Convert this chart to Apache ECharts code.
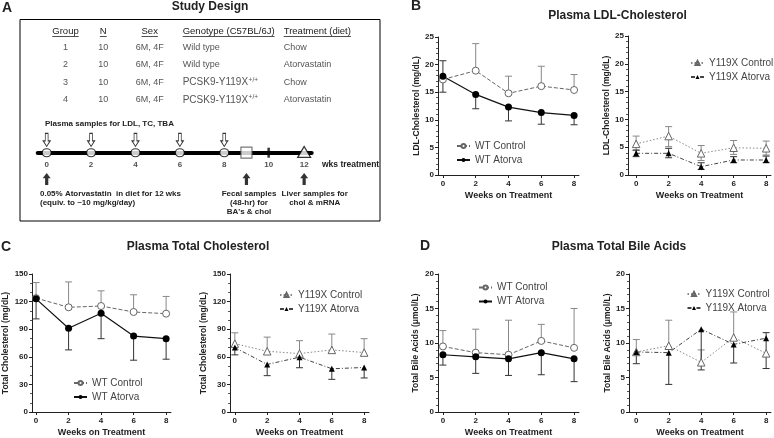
<!DOCTYPE html>
<html><head><meta charset="utf-8">
<script src="https://cdn.jsdelivr.net/npm/echarts@6/dist/echarts.min.js"></script>
<style>html,body{margin:0;padding:0;background:#fff}#c{width:774px;height:438px}</style>
</head><body><div id="c"></div>
<script>
// ---------------- DATA ----------------
const weeks = [0, 2, 4, 6, 8];
const weekTicks = [0, 2, 4, 6, 8];

// B: Plasma LDL-C (mg/dL)
const ldlWtCtrl    = [17.3, 18.9, 14.8, 16.1, 15.4];
const ldlWtCtrlLo  = [17.3, 18.9, 14.8, 16.1, 15.4];
const ldlWtCtrlHi  = [17.3, 23.8, 17.9, 19.7, 18.2];
const ldlWtAtv     = [17.9, 14.6, 12.3, 11.3, 10.8];
const ldlWtAtvLo   = [15.0, 12.0, 9.8, 9.2, 9.1];
const ldlWtAtvHi   = [20.7, 14.6, 12.3, 11.3, 10.8];
const ldlYCtrl     = [5.6, 7.0, 3.9, 4.9, 4.8];
const ldlYCtrlLo   = [4.4, 5.1, 2.6, 3.7, 3.6];
const ldlYCtrlHi   = [7.0, 8.7, 5.3, 6.2, 6.1];
const ldlYAtv      = [3.9, 3.9, 1.5, 2.7, 2.7];
const ldlYAtvLo    = [3.3, 3.1, 1.0, 2.2, 2.2];
const ldlYAtvHi    = [4.5, 4.8, 2.2, 3.3, 3.4];

// C: Plasma total cholesterol (mg/dL)
const tcWtCtrl   = [123.8, 113.8, 115.2, 108.7, 106.9];
const tcWtCtrlLo = [123.8, 113.8, 115.2, 108.7, 106.9];
const tcWtCtrlHi = [140.7, 141.4, 131.7, 127.4, 125.6];
const tcWtAtv    = [123.0, 91.1, 107.3, 82.5, 79.7];
const tcWtAtvLo  = [101.2, 67.5, 79.7, 56.3, 57.4];
const tcWtAtvHi  = [123.0, 91.1, 107.3, 82.5, 79.7];
const tcYCtrl    = [74.3, 66.0, 63.5, 67.5, 64.6];
const tcYCtrlLo  = [74.3, 66.0, 63.5, 67.5, 64.6];
const tcYCtrlHi  = [86.1, 81.4, 77.5, 84.7, 79.7];
const tcYAtv     = [70.0, 51.7, 59.6, 47.0, 48.4];
const tcYAtvLo   = [62.1, 39.5, 48.1, 35.5, 37.0];
const tcYAtvHi   = [70.0, 51.7, 59.6, 47.0, 48.4];

// D: Plasma total bile acids (umol/L)
const baWtCtrl   = [9.5, 8.6, 8.3, 10.3, 9.3];
const baWtCtrlLo = [9.5, 8.6, 8.3, 10.3, 9.3];
const baWtCtrlHi = [11.8, 12.0, 13.3, 12.7, 15.0];
const baWtAtv    = [8.3, 8.0, 7.7, 8.6, 7.7];
const baWtAtvLo  = [6.8, 5.6, 5.3, 5.4, 4.4];
const baWtAtvHi  = [8.3, 8.0, 7.7, 8.6, 7.7];
const baYCtrl    = [8.7, 9.6, 7.2, 10.8, 8.5];
const baYCtrlLo  = [8.7, 9.6, 7.2, 10.8, 8.5];
const baYCtrlHi  = [10.5, 13.3, 9.0, 14.5, 8.5];
const baYAtv     = [8.7, 8.6, 12.0, 9.8, 10.7];
const baYAtvLo   = [7.0, 4.0, 6.1, 7.1, 6.3];
const baYAtvHi   = [8.7, 8.6, 12.0, 9.8, 11.5];

// A: study design
const tableHeaders = ['Group', 'N', 'Sex', 'Genotype (C57BL/6J)', 'Treatment (diet)'];
const tableGroups = ['1', '2', '3', '4'];
const tableN = ['10', '10', '10', '10'];
const tableSex = ['6M, 4F', '6M, 4F', '6M, 4F', '6M, 4F'];
const tableGenotype = ['Wild type', 'Wild type', 'PCSK9-Y119X', 'PCSK9-Y119X'];
const tableGenotypeSup = ['', '', '+/+', '+/+'];
const tableTreatment = ['Chow', 'Atorvastatin', 'Chow', 'Atorvastatin'];
const plasmaSampleWeeks = [0, 2, 4, 6, 8];
const fecalWeek = [9];
const markWeek = [10];
const liverWeek = [11.6];
const startWeek = [0];
const timelineLabels = ['0', '2', '4', '6', '8', '10', '12'];
const timelineLabelPos = [0, 2, 4, 6, 8, 10, 11.6];

// ---------------- STYLE / LAYOUT ----------------
const FF = 'Liberation Sans, Arial, Helvetica, sans-serif';
const styles = {
  wtc: { symbol: 'circle', symbolSize: 7, itemStyle: { color: '#fff', borderColor: '#666', borderWidth: 1 }, lineStyle: { color: '#666', width: 1, type: [4, 2] }, err: '#888' },
  wta: { symbol: 'circle', symbolSize: 7, itemStyle: { color: '#000', borderColor: '#000', borderWidth: 0 }, lineStyle: { color: '#111', width: 1.2, type: 'solid' }, err: '#333' },
  yc:  { symbol: 'triangle', symbolSize: 7.5, itemStyle: { color: '#fff', borderColor: '#666', borderWidth: 1 }, lineStyle: { color: '#888', width: 1, type: [1.5, 2] }, err: '#888' },
  ya:  { symbol: 'triangle', symbolSize: 6, itemStyle: { color: '#000', borderColor: '#000', borderWidth: 0 }, lineStyle: { color: '#444', width: 1, type: [4, 2, 1, 2] }, err: '#333' }
};

const panels = [
  { grid: { left: 438, top: 37, width: 141, height: 138 }, xmin: -0.3, ymax: 25, yint: 5, ymin: 5, yname: 'LDL-Cholesterol (mg/dL)', ygap: 15,
    legend: { left: 456, top: 141 },
    series: [
      { name: 'WT Control', st: 'wtc', mean: ldlWtCtrl, lo: ldlWtCtrlLo, hi: ldlWtCtrlHi },
      { name: 'WT Atorva', st: 'wta', mean: ldlWtAtv, lo: ldlWtAtvLo, hi: ldlWtAtvHi } ] },
  { grid: { left: 628, top: 36, width: 143, height: 139 }, xmin: -0.5, ymax: 25, yint: 5, ymin: 5, yname: 'LDL-Cholesterol (mg/dL)', ygap: 11,
    legend: { left: 690, top: 58 },
    series: [
      { name: 'Y119X Control', st: 'yc', mean: ldlYCtrl, lo: ldlYCtrlLo, hi: ldlYCtrlHi },
      { name: 'Y119X Atorva', st: 'ya', mean: ldlYAtv, lo: ldlYAtvLo, hi: ldlYAtvHi } ] },
  { grid: { left: 32, top: 274, width: 139, height: 139 }, xmin: -0.25, ymax: 150, yint: 30, ymin: 3, yname: 'Total Cholesterol (mg/dL)', ygap: 22,
    legend: { left: 73, top: 378 },
    series: [
      { name: 'WT Control', st: 'wtc', mean: tcWtCtrl, lo: tcWtCtrlLo, hi: tcWtCtrlHi },
      { name: 'WT Atorva', st: 'wta', mean: tcWtAtv, lo: tcWtAtvLo, hi: tcWtAtvHi } ] },
  { grid: { left: 230, top: 274, width: 139, height: 139 }, xmin: -0.3, ymax: 150, yint: 30, ymin: 3, yname: 'Total Cholesterol (mg/dL)', ygap: 22,
    legend: { left: 279, top: 290 },
    series: [
      { name: 'Y119X Control', st: 'yc', mean: tcYCtrl, lo: tcYCtrlLo, hi: tcYCtrlHi },
      { name: 'Y119X Atorva', st: 'ya', mean: tcYAtv, lo: tcYAtvLo, hi: tcYAtvHi } ] },
  { grid: { left: 438, top: 274, width: 141, height: 139 }, xmin: -0.3, ymax: 20, yint: 5, ymin: 5, yname: 'Total Bile Acids (\u03bcmol/L)', ygap: 18,
    legend: { left: 478, top: 282.5 },
    series: [
      { name: 'WT Control', st: 'wtc', mean: baWtCtrl, lo: baWtCtrlLo, hi: baWtCtrlHi },
      { name: 'WT Atorva', st: 'wta', mean: baWtAtv, lo: baWtAtvLo, hi: baWtAtvHi } ] },
  { grid: { left: 629, top: 274, width: 142, height: 139 }, xmin: -0.45, ymax: 20, yint: 5, ymin: 5, yname: 'Total Bile Acids (\u03bcmol/L)', ygap: 15,
    legend: { left: 686.5, top: 289 },
    series: [
      { name: 'Y119X Control', st: 'yc', mean: baYCtrl, lo: baYCtrlLo, hi: baYCtrlHi },
      { name: 'Y119X Atorva', st: 'ya', mean: baYAtv, lo: baYAtvLo, hi: baYAtvHi } ] }
];

const grids = [], xAxes = [], yAxes = [], series = [], legends = [];
const axisColor = '#222';

panels.forEach((p, i) => {
  grids.push(Object.assign({ containLabel: false }, p.grid));
  xAxes.push({
    type: 'value', gridIndex: i, min: p.xmin, max: 8.3,
    axisLine: { show: true, onZero: false, lineStyle: { color: axisColor, width: 1 } },
    axisTick: { show: true, length: 3, customValues: weekTicks, lineStyle: { color: axisColor } },
    axisLabel: { customValues: weekTicks, fontSize: 8, fontWeight: 'bold', color: '#222', margin: 5, fontFamily: FF },
    splitLine: { show: false },
    name: 'Weeks on Treatment', nameLocation: 'middle', nameGap: 16,
    nameTextStyle: { fontSize: 9, fontWeight: 'bold', color: '#222', fontFamily: FF }
  });
  yAxes.push({
    type: 'value', gridIndex: i, min: 0, max: p.ymax, interval: p.yint,
    axisLine: { show: true, onZero: false, lineStyle: { color: axisColor, width: 1 } },
    axisTick: { show: true, length: 3, lineStyle: { color: axisColor } },
    minorTick: { show: true, splitNumber: p.ymin, length: 2, lineStyle: { color: '#555' } },
    splitLine: { show: false }, minorSplitLine: { show: false },
    axisLabel: { fontSize: 8, fontWeight: 'bold', color: '#222', margin: 4, fontFamily: FF },
    name: p.yname, nameLocation: 'middle', nameGap: p.ygap,
    nameTextStyle: { fontSize: 8.5, fontWeight: 'bold', color: '#222', fontFamily: FF }
  });
  legends.push({
    data: p.series.map(s => s.name), left: p.legend.left, top: p.legend.top, orient: 'vertical',
    padding: 0, itemGap: 4, itemWidth: 13, itemHeight: 5, selectedMode: false,
    textStyle: { fontSize: 10, color: '#444', fontFamily: FF }
  });
  p.series.forEach(s => {
    const st = styles[s.st];
    series.push({
      type: 'custom', name: s.name + ' SD', xAxisIndex: i, yAxisIndex: i, z: 1, silent: true,
      data: weeks.map((w, k) => [w, s.mean[k], s.lo[k], s.hi[k]]),
      encode: { x: 0, y: [2, 3] },
      renderItem: function (params, api) {
        const x = api.value(0), m = api.value(1), lo = api.value(2), hi = api.value(3);
        const pLo = api.coord([x, lo]), pHi = api.coord([x, hi]);
        const cw = 3.5, ls = { stroke: st.err, lineWidth: 1 };
        const ch = [{ type: 'line', shape: { x1: pLo[0], y1: pLo[1], x2: pHi[0], y2: pHi[1] }, style: ls }];
        if (hi > m) ch.push({ type: 'line', shape: { x1: pHi[0] - cw, y1: pHi[1], x2: pHi[0] + cw, y2: pHi[1] }, style: ls });
        if (lo < m) ch.push({ type: 'line', shape: { x1: pLo[0] - cw, y1: pLo[1], x2: pLo[0] + cw, y2: pLo[1] }, style: ls });
        return { type: 'group', children: ch };
      }
    });
    series.push({
      type: 'line', name: s.name, xAxisIndex: i, yAxisIndex: i, z: 3,
      data: weeks.map((w, k) => [w, s.mean[k]]),
      symbol: st.symbol, symbolSize: st.symbolSize, showAllSymbol: true,
      itemStyle: st.itemStyle, lineStyle: st.lineStyle, animation: false
    });
  });
});

// ---- Panel A timeline (grid index 6) ----
const TI = 6;
grids.push({ left: 37.7, top: 72.7, width: 274, height: 160 });
xAxes.push({ type: 'value', gridIndex: TI, min: -0.405, max: 11.94,
  axisLine: { show: true, onZero: true, lineStyle: { color: '#000', width: 4 } },
  axisTick: { show: false }, axisLabel: { show: false }, splitLine: { show: false } });
yAxes.push({ type: 'value', gridIndex: TI, min: -20, max: 20, show: false, splitLine: { show: false } });

const downArrow = 'path://M3,0 L7,0 L7,8 L10,8 L5,14 L0,8 L3,8 Z';
const upArrow = 'path://M5,0 L10,6 L7,6 L7,14 L3,14 L3,6 L0,6 Z';
const tl = (data, extra) => Object.assign({ type: 'scatter', xAxisIndex: TI, yAxisIndex: TI, clip: false, silent: true, z: 5, data }, extra);
series.push(tl(plasmaSampleWeeks.map(w => [w, 3.2]), { symbol: downArrow, symbolSize: [7, 13], itemStyle: { color: '#fff', borderColor: '#000', borderWidth: 1 } }));
series.push(tl(plasmaSampleWeeks.map(w => [w, 0]), { symbol: 'circle', symbolSize: [9, 8], itemStyle: { color: '#fff', borderColor: '#000', borderWidth: 1.2 } }));
series.push(tl(fecalWeek.map(w => [w, 0]), { symbol: 'rect', symbolSize: 11, itemStyle: { color: '#fff', borderColor: '#555', borderWidth: 1.2 } }));
series.push(tl(markWeek.map(w => [w, 0]), { symbol: 'rect', symbolSize: [2.5, 10], itemStyle: { color: '#000' } }));
series.push(tl(liverWeek.map(w => [w, 0.2]), { symbol: 'triangle', symbolSize: [13, 11], itemStyle: { color: '#fff', borderColor: '#000', borderWidth: 1.2 } }));
series.push(tl(startWeek.concat(fecalWeek, liverWeek).map(w => [w, -6.6]), { symbol: upArrow, symbolSize: [8, 12], itemStyle: { color: '#000' } }));
series.push(tl(timelineLabelPos.map((w, k) => ({ value: [w, -2.9], label: { formatter: timelineLabels[k] } })), {
  symbolSize: 1, itemStyle: { color: 'rgba(0,0,0,0)' },
  label: { show: true, position: 'inside', fontSize: 8, fontWeight: 'bold', color: '#222', fontFamily: FF } }));

// ---- Graphic text ----
const G = [];
function txt(text, x, y, font, align, fill) {
  G.push({ type: 'text', x: x, y: y, silent: true,
    style: { text: text, font: font, fill: fill || '#222', textAlign: align || 'left', textVerticalAlign: 'middle', align: align || 'left', verticalAlign: 'middle' } });
}
const measureCtx = document.createElement('canvas').getContext('2d');
function tw(text, font) { measureCtx.font = font; return measureCtx.measureText(text).width; }

const fTitle = 'bold 12px ' + FF, fLetter = 'bold 14px ' + FF;
txt('A', 2, 8, fLetter); txt('Study Design', 210, 7, fTitle, 'center');
txt('B', 411, 6, fLetter); txt('Plasma LDL-Cholesterol', 617.5, 15.7, fTitle, 'center');
txt('C', 1, 247, fLetter); txt('Plasma Total Cholesterol', 198, 247, fTitle, 'center');
txt('D', 420, 246.5, fLetter); txt('Plasma Total Bile Acids', 619, 247, fTitle, 'center');

G.push({ type: 'rect', silent: true, shape: { x: 20, y: 19.5, width: 360, height: 201.5 }, style: { fill: 'none', stroke: '#000', lineWidth: 1 } });

const fHead = '9.5px ' + FF, fTab = '9px ' + FF, fGeno = '10px ' + FF;
const colX = [65.5, 103.3, 149.7, 182.7, 283.7];
const colAlign = ['center', 'center', 'center', 'left', 'left'];
tableHeaders.forEach((h, c) => {
  txt(h, colX[c], 31.5, fHead, colAlign[c], '#222');
  const w = tw(h, fHead);
  const x0 = colAlign[c] === 'center' ? colX[c] - w / 2 : colX[c];
  G.push({ type: 'line', silent: true, shape: { x1: x0, y1: 36.5, x2: x0 + w, y2: 36.5 }, style: { stroke: '#222', lineWidth: 0.8 } });
});
const rowY = [47.3, 64.7, 82.3, 100];
const rowCol = '#555';
tableGroups.forEach((g, r) => {
  txt(g, colX[0], rowY[r], fTab, 'center', rowCol);
  txt(tableN[r], colX[1], rowY[r], fTab, 'center', rowCol);
  txt(tableSex[r], colX[2], rowY[r], fTab, 'center', rowCol);
  const gf = tableGenotypeSup[r] ? fGeno : fTab;
  txt(tableGenotype[r], colX[3], rowY[r], gf, 'left', rowCol);
  if (tableGenotypeSup[r]) txt(tableGenotypeSup[r], colX[3] + tw(tableGenotype[r], gf) + 0.5, rowY[r] - 2.5, '6.5px ' + FF, 'left', rowCol);
  txt(tableTreatment[r], colX[4], rowY[r], fTab, 'left', rowCol);
});

const fNote = 'bold 8px ' + FF;
txt('Plasma samples for LDL, TC, TBA', 45, 123.3, fNote);
txt('wks treatment', 322, 164.3, 'bold 8.5px ' + FF);
txt('0.05% Atorvastatin  in diet for 12 wks', 40, 193.3, fNote);
txt('(equiv. to ~10 mg/kg/day)', 40, 202.3, fNote);
txt('Fecal samples', 249, 193.3, fNote, 'center');
txt('(48-hr) for', 249, 202.3, fNote, 'center');
txt("BA's & chol", 249, 211.3, fNote, 'center');
txt('Liver samples for', 314.7, 193.3, fNote, 'center');
txt('chol & mRNA', 314.7, 202.3, fNote, 'center');

const chart = echarts.init(document.getElementById('c'), null, { renderer: 'canvas' });
chart.setOption({
  animation: false,
  backgroundColor: '#fff',
  textStyle: { fontFamily: FF },
  grid: grids, xAxis: xAxes, yAxis: yAxes, legend: legends, series: series, graphic: G
});
</script></body></html>
